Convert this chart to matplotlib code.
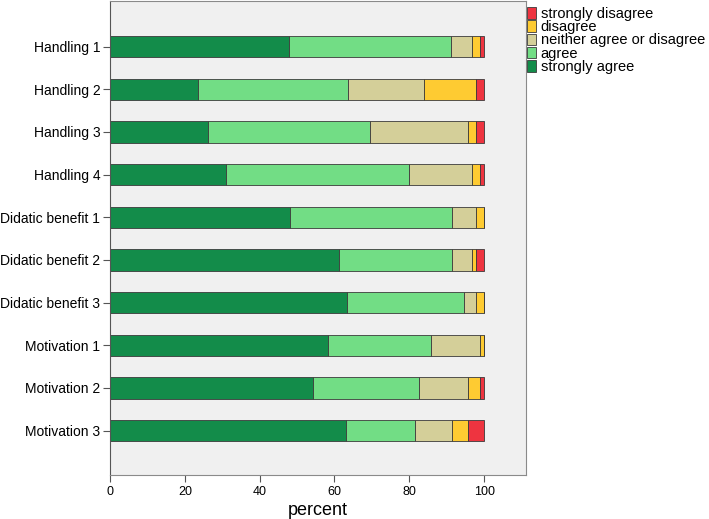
import numpy as np
import matplotlib
matplotlib.use("Agg")
import matplotlib.pyplot as plt

# ================= Data ================= #
items = ["Handling 1", "Handling 2", "Handling 3", "Handling 4",
         "Didatic benefit 1", "Didatic benefit 2", "Didatic benefit 3",
         "Motivation 1", "Motivation 2", "Motivation 3"]
strongly_agree = [47.9, 23.4, 26.3, 30.9, 48.0, 61.1, 63.4, 58.4, 54.3, 63.0]
agree = [43.3, 40.3, 43.2, 48.9, 43.4, 30.3, 31.2, 27.3, 28.3, 18.6]
neither = [5.5, 20.3, 26.2, 17.0, 6.5, 5.4, 3.3, 13.2, 13.1, 9.7]
disagree = [2.2, 13.9, 2.2, 2.1, 2.1, 1.1, 2.1, 1.1, 3.2, 4.3]
strongly_disagree = [1.1, 2.1, 2.1, 1.1, 0.0, 2.1, 0.0, 0.0, 1.1, 4.4]

series = [("strongly agree", strongly_agree, "#138c4a"),
          ("agree", agree, "#72dd85"),
          ("neither agree or disagree", neither, "#d4cf99"),
          ("disagree", disagree, "#fecb32"),
          ("strongly disagree", strongly_disagree, "#ee3440")]

# ================= Plot ================= #
plt.rcParams['font.family'] = ['Liberation Sans', 'DejaVu Sans']
fig = plt.figure(figsize=(7.09, 5.19), dpi=100)
ax = fig.add_axes([110 / 709, 1 - 474.5 / 519, 416 / 709, 473.5 / 519])
ax.set_facecolor("#f0f0f0")

y = np.arange(len(items))
left = np.zeros(len(items))
handles = []
for name, vals, col in series:
    vals = np.array(vals)
    b = ax.barh(y, vals, left=left, height=0.5, color=col,
                edgecolor="#3a3a3a", linewidth=0.6, label=name)
    handles.append(b)
    left = left + vals

ax.set_ylim(10.03, -1.07)
ax.set_xlim(0, 111.2)
ax.set_yticks(y)
ax.set_yticklabels(items, fontsize=10)
ax.set_xticks([0, 20, 40, 60, 80, 100])
ax.tick_params(axis='x', labelsize=9, length=5, color="#555555", pad=3)
ax.tick_params(axis='y', length=5, color="#555555", pad=2)
ax.set_xlabel("percent", fontsize=13, labelpad=3)
for s in ["top", "right", "bottom"]:
    ax.spines[s].set_color("#8a8a8a")
    ax.spines[s].set_linewidth(0.8)
ax.spines["left"].set_color("#555555")
ax.spines["left"].set_linewidth(0.8)

# Legend in reverse order, outside the axes
leg = fig.legend(handles[::-1], [s[0] for s in series[::-1]],
                 loc="upper left", bbox_to_anchor=(524 / 709, 1 - 4 / 519),
                 frameon=False, fontsize=10.5, labelspacing=-0.05,
                 handlelength=0.65, handleheight=0.85, handletextpad=0.3,
                 borderaxespad=0.0, borderpad=0.2)

fig.savefig("out.png", dpi=100)
